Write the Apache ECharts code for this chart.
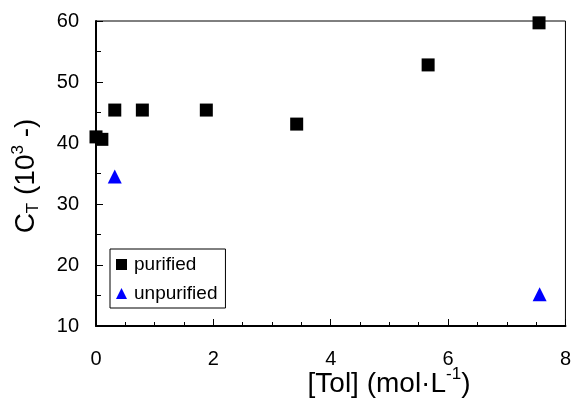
<!DOCTYPE html>
<html>
<head>
<meta charset="utf-8">
<script src="https://cdn.jsdelivr.net/npm/echarts@6/dist/echarts.min.js"></script>
<style>html,body{margin:0;padding:0;background:#fff}#c{width:574px;height:399px}</style>
</head>
<body>
<div id="c"></div>
<script>
var purifiedX = [0, 0.1, 0.32, 0.79, 1.88, 3.42, 5.66, 7.55];
var purifiedY = [41.0, 40.6, 45.4, 45.4, 45.4, 43.1, 52.8, 59.7];
var unpurifiedX = [0.32, 7.56];
var unpurifiedY = [34.5, 15.2];
var xTicks = [0, 2, 4, 6, 8];
var yTicks = [10, 20, 30, 40, 50, 60];

function pairs(xs, ys) { return xs.map(function (x, i) { return [x, ys[i]]; }); }

var FONT = 'Liberation Sans, Arial, sans-serif';
var chart = echarts.init(document.getElementById('c'));
chart.setOption({
  animation: false,
  backgroundColor: '#fff',
  grid: { left: 96, right: 5, top: 21, bottom: 73, show: true, borderColor: '#000', borderWidth: 1 },
  xAxis: {
    type: 'value', min: xTicks[0], max: xTicks[xTicks.length - 1], interval: 2,
    axisLine: { show: true, onZero: false, lineStyle: { color: '#000', width: 2 } },
    axisTick: { inside: true, length: 7, lineStyle: { color: '#000', width: 1 } },
    minorTick: { show: true, splitNumber: 4, length: 4, lineStyle: { color: '#000', width: 1 } },
    splitLine: { show: false },
    axisLabel: { color: '#000', fontSize: 20, fontFamily: FONT, margin: 23 }
  },
  yAxis: {
    type: 'value', min: yTicks[0], max: yTicks[yTicks.length - 1], interval: 10,
    axisLine: { show: true, onZero: false, lineStyle: { color: '#000', width: 2 } },
    axisTick: { inside: true, length: 7, lineStyle: { color: '#000', width: 1 } },
    minorTick: { show: true, splitNumber: 2, length: 5, lineStyle: { color: '#000', width: 1 } },
    splitLine: { show: false },
    axisLabel: { color: '#000', fontSize: 20, fontFamily: FONT, margin: 17 }
  },
  legend: {
    left: 110, top: 249, orient: 'vertical',
    borderColor: '#000', borderWidth: 1, padding: [6, 8, 5, 6],
    itemGap: 10, itemWidth: 11, itemHeight: 11,
    textStyle: { color: '#000', fontSize: 19, fontFamily: FONT, padding: [0, 0, 0, 2] },
    data: [
      { name: 'purified', icon: 'rect' },
      { name: 'unpurified', icon: 'triangle' }
    ]
  },
  graphic: [
    {
      type: 'text', x: 389, y: 382,
      style: {
        text: '{a|[Tol] (mol·L}{sup|-1}{a|)}',
        textAlign: 'center', textVerticalAlign: 'middle',
        rich: {
          a: { fontSize: 28, fontFamily: FONT, fill: '#000', lineHeight: 32, verticalAlign: 'bottom' },
          sup: { fontSize: 17, fontFamily: FONT, fill: '#000', lineHeight: 17, verticalAlign: 'top' }
        }
      }
    },
    {
      type: 'text', x: 26, y: 176, rotation: Math.PI / 2,
      style: {
        text: '{a|C}{sub|T}{a| (10}{sup|3}{a| -)}',
        textAlign: 'center', textVerticalAlign: 'middle',
        rich: {
          a: { fontSize: 28, fontFamily: FONT, fill: '#000', lineHeight: 32, verticalAlign: 'middle' },
          sub: { fontSize: 17, fontFamily: FONT, fill: '#000', lineHeight: 17, verticalAlign: 'bottom' },
          sup: { fontSize: 17, fontFamily: FONT, fill: '#000', lineHeight: 17, verticalAlign: 'top' }
        }
      }
    }
  ],
  series: [
    {
      name: 'purified', type: 'scatter', symbol: 'rect', symbolSize: 13, clip: false,
      itemStyle: { color: '#000', opacity: 1 }, data: pairs(purifiedX, purifiedY)
    },
    {
      name: 'unpurified', type: 'scatter', symbol: 'triangle', symbolSize: 14, clip: false,
      itemStyle: { color: '#0000ff', opacity: 1 }, data: pairs(unpurifiedX, unpurifiedY)
    }
  ]
});
</script>
</body>
</html>
